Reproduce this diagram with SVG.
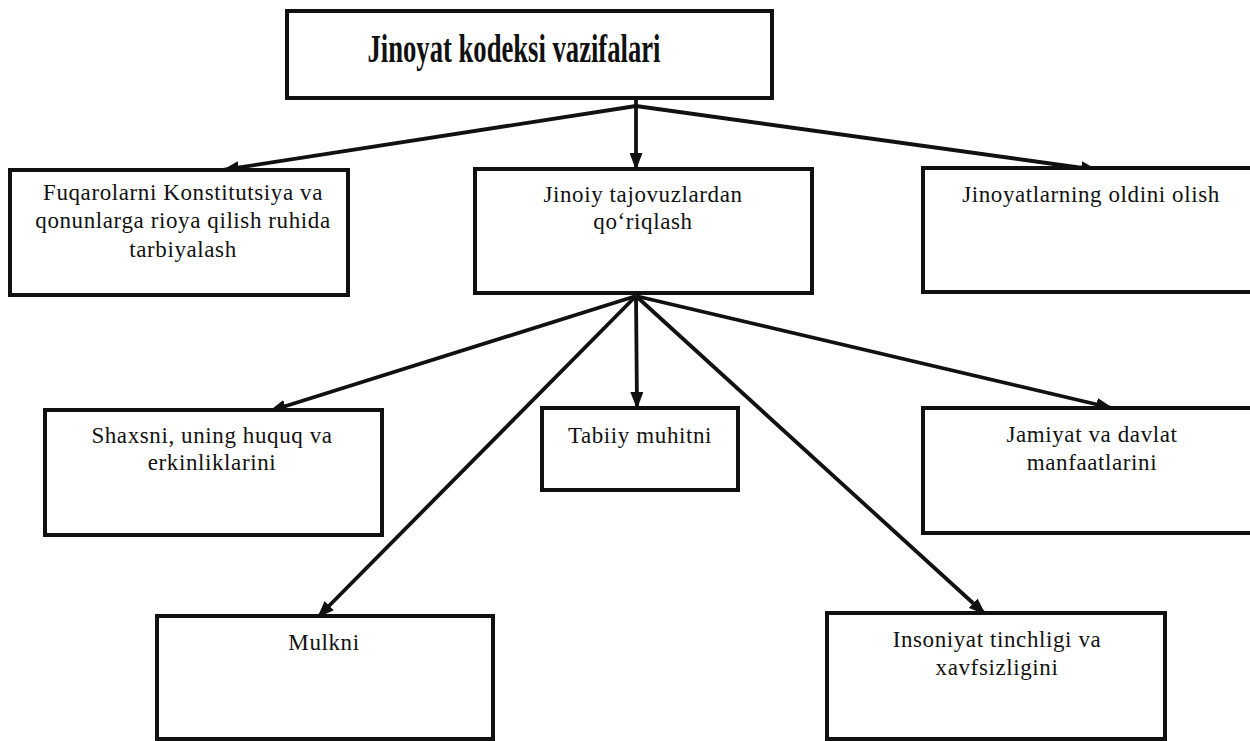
<svg xmlns="http://www.w3.org/2000/svg" width="1250" height="741" viewBox="0 0 1250 741">
  <style>
    .box { fill: #ffffff; stroke: #111111; stroke-width: 4; }
    .t { font-family: "Liberation Serif", "Times New Roman", serif; font-size: 23px; letter-spacing: 0.6px; fill: #111111; text-anchor: middle; }
    .title { font-family: "Liberation Serif", "Times New Roman", serif; font-size: 40px; font-weight: bold; fill: #111111; text-anchor: middle; }
    .c { stroke: #111111; stroke-width: 3.8; fill: none; marker-end: url(#ah); }
  </style>
  <defs>
    <marker id="ah" markerUnits="userSpaceOnUse" markerWidth="17" markerHeight="13" refX="16" refY="6.5" orient="auto">
      <path d="M0,0 L17,6.5 L0,13 z" fill="#111111"/>
    </marker>
  </defs>
  <rect width="1250" height="741" fill="#ffffff"/>

  <g id="connectors">
    <line class="c" x1="636" y1="106" x2="223" y2="170"/>
    <line class="c" x1="636" y1="100" x2="636" y2="169"/>
    <line class="c" x1="636" y1="106" x2="1097" y2="170"/>
    <line class="c" x1="636" y1="296" x2="270" y2="411"/>
    <line class="c" x1="636" y1="296" x2="637" y2="408"/>
    <line class="c" x1="636" y1="296" x2="1112" y2="408"/>
    <line class="c" x1="636" y1="296" x2="318" y2="617"/>
    <line class="c" x1="636" y1="296" x2="985" y2="614"/>
  </g>

  <g id="node-title">
    <rect class="box" x="287" y="11" width="485" height="87"/>
    <text class="title" x="514" y="62" textLength="293" lengthAdjust="spacingAndGlyphs">Jinoyat kodeksi vazifalari</text>
  </g>
  <g id="node-fuqarolarni">
    <rect class="box" x="10" y="170" width="338" height="125"/>
    <text class="t" x="183" y="200">Fuqarolarni Konstitutsiya va</text>
    <text class="t" x="183" y="228">qonunlarga rioya qilish ruhida</text>
    <text class="t" x="183" y="257">tarbiyalash</text>
  </g>
  <g id="node-jinoiy">
    <rect class="box" x="475" y="169" width="337" height="124"/>
    <text class="t" x="643" y="202">Jinoiy tajovuzlardan</text>
    <text class="t" x="643" y="229">qo‘riqlash</text>
  </g>
  <g id="node-oldini">
    <rect class="box" x="923" y="168" width="340" height="124"/>
    <text class="t" x="1091" y="202">Jinoyatlarning oldini olish</text>
  </g>
  <g id="node-shaxsni">
    <rect class="box" x="45" y="410" width="337" height="125"/>
    <text class="t" x="212" y="443">Shaxsni, uning huquq va</text>
    <text class="t" x="212" y="470">erkinliklarini</text>
  </g>
  <g id="node-tabiiy">
    <rect class="box" x="542" y="408" width="196" height="82"/>
    <text class="t" x="640" y="443">Tabiiy muhitni</text>
  </g>
  <g id="node-jamiyat">
    <rect class="box" x="923" y="408" width="340" height="125"/>
    <text class="t" x="1092" y="442">Jamiyat va davlat</text>
    <text class="t" x="1092" y="470">manfaatlarini</text>
  </g>
  <g id="node-mulkni">
    <rect class="box" x="157" y="616" width="336" height="123"/>
    <text class="t" x="324" y="650">Mulkni</text>
  </g>
  <g id="node-insoniyat">
    <rect class="box" x="827" y="613" width="338" height="126"/>
    <text class="t" x="997" y="647">Insoniyat tinchligi va</text>
    <text class="t" x="997" y="675">xavfsizligini</text>
  </g>
</svg>
